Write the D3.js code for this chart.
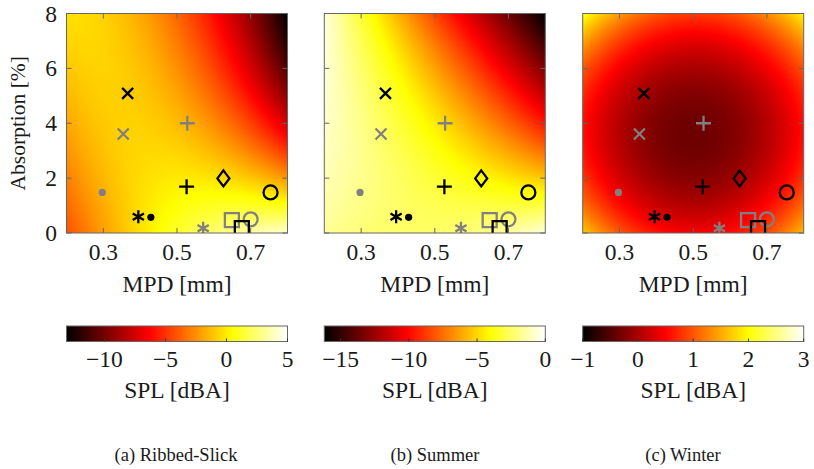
<!DOCTYPE html>
<html><head><meta charset="utf-8">
<script src="https://cdn.jsdelivr.net/npm/d3@7"></script>
<style>body{margin:0;background:#fff}svg{display:block}text{font-family:"Liberation Serif","Times New Roman",serif;fill:#1a1a1a}</style>
</head><body>
<script>
// ---------------- data ----------------
const panelTitles = ["(a) Ribbed-Slick", "(b) Summer", "(c) Winter"];
const mpdDomain = [0.2, 0.8];
const absDomain = [0, 8];
const mpdTicks = [0.3, 0.5, 0.7];
const absTicks = [0, 2, 4, 6, 8];
// SPL surface values at MPD nodes (cols) x Absorption nodes (rows)
const gridMPD = [0.2, 0.5, 0.8];
const gridAbs = [0, 4, 8];
const splRibbedSlick = [[-4.2, 1.2, 4.1], [-1.9, -1.3, -7.4], [-0.3, -3.6, -13.1]];
const splSummer = [[-1.6, -2.4, -0.6], [-0.8, -4.5, -9.6], [-0.5, -8.5, -16.2]];
const splWinter = [[1.7, 0.45, 1.6], [0.6, -0.35, 0.6], [2.1, 0.85, 1.96]];
const splDomains = [[-13.1, 5], [-16.2, 0], [-1, 3]];
const cbTicks = [[-10, -5, 0, 5], [-15, -10, -5, 0], [-1, 0, 1, 2, 3]];
// measurement points (road surfaces)
const pointMPD = [0.366, 0.354, 0.528, 0.526, 0.626, 0.754, 0.297, 0.395, 0.429, 0.571, 0.649, 0.700, 0.676];
const pointAbs = [5.09, 3.61, 4.0, 1.69, 1.99, 1.48, 1.48, 0.59, 0.57, 0.17, 0.47, 0.50, 0.18];
const pointShape = ["x", "x", "plus", "plus", "diamond", "circle", "dot", "star", "dot", "star", "square", "circle", "square"];
const pointTone = ["k", "g", "g", "k", "k", "k", "g", "k", "k", "g", "g", "g", "k"];

// ---------------- layout ----------------
const W = 814, H = 469;
const panelX = [66.5, 324.3, 582.7];
const pw = 221, plotTop = 13.5, plotBottom = 233;
const cbTop = 326, cbH = 15.5;
const frameColor = "#666";
const toneColor = {k: "#000", g: "#808080"};
const fs = 23.5;

const svg = d3.select("body").append("svg").attr("width", W).attr("height", H);
const defs = svg.append("defs");

function hot(t) {
  t = Math.max(0, Math.min(1, t));
  const r = Math.min(1, t / 0.375), g = Math.max(0, Math.min(1, (t - 0.375) / 0.375)), b = Math.max(0, Math.min(1, (t - 0.75) / 0.25));
  return [r * 255, g * 255, b * 255];
}
function lagr(v, nodes) {
  return nodes.map((n, i) => {
    let w = 1;
    nodes.forEach((m, j) => { if (j !== i) w *= (v - m) / (n - m); });
    return w;
  });
}
const surfaces = [splRibbedSlick, splSummer, splWinter];

function markerPath(shape) {
  switch (shape) {
    case "x": return "M-5.5,-5.5L5.5,5.5M-5.5,5.5L5.5,-5.5";
    case "plus": return "M-7.5,0H7.5M0,-7.5V7.5";
    case "diamond": return "M0,-8L6,0L0,8L-6,0Z";
    case "square": return "M-7,-7H7V7H-7Z";
    case "star": {
      const r = 6.5; let p = "";
      [90, 30, 150].forEach(a => { const c = Math.cos(a * Math.PI / 180) * r, s = Math.sin(a * Math.PI / 180) * r; p += `M${-c},${-s}L${c},${s}`; });
      return p;
    }
  }
  return "";
}

panelTitles.forEach((title, k) => {
  const x0 = panelX[k];
  const x = d3.scaleLinear().domain(mpdDomain).range([x0, x0 + pw]);
  const y = d3.scaleLinear().domain(absDomain).range([plotBottom, plotTop]);
  const color = d3.scaleLinear().domain(splDomains[k]).range([0, 1]).clamp(true);
  const grid = surfaces[k];

  // heatmap via canvas
  const cw = Math.round(pw), ch = Math.round(plotBottom - plotTop);
  const canvas = document.createElement("canvas");
  canvas.width = cw; canvas.height = ch;
  const ctx = canvas.getContext("2d");
  const img = ctx.createImageData(cw, ch);
  for (let j = 0; j < ch; j++) {
    const a = y.invert(plotTop + j + 0.5);
    const wa = lagr(a, gridAbs);
    for (let i = 0; i < cw; i++) {
      const m = x.invert(x0 + i + 0.5);
      const wm = lagr(m, gridMPD);
      let v = 0;
      for (let r = 0; r < 3; r++) for (let c = 0; c < 3; c++) v += wa[r] * wm[c] * grid[r][c];
      const col = hot(color(v));
      const o = (j * cw + i) * 4;
      img.data[o] = col[0]; img.data[o + 1] = col[1]; img.data[o + 2] = col[2]; img.data[o + 3] = 255;
    }
  }
  ctx.putImageData(img, 0, 0);
  const g = svg.append("g");
  g.append("image").attr("x", x0).attr("y", plotTop).attr("width", pw).attr("height", plotBottom - plotTop)
    .attr("preserveAspectRatio", "none").attr("href", canvas.toDataURL());

  // clip
  defs.append("clipPath").attr("id", "clip" + k).append("rect")
    .attr("x", x0).attr("y", plotTop).attr("width", pw).attr("height", plotBottom - plotTop);

  // ticks inside on all sides
  const tl = 5;
  const tk = g.append("g").attr("stroke", frameColor).attr("stroke-width", 1);
  mpdTicks.forEach(t => {
    tk.append("line").attr("x1", x(t)).attr("x2", x(t)).attr("y1", plotBottom).attr("y2", plotBottom - tl);
    tk.append("line").attr("x1", x(t)).attr("x2", x(t)).attr("y1", plotTop).attr("y2", plotTop + tl);
  });
  absTicks.forEach(t => {
    tk.append("line").attr("x1", x0).attr("x2", x0 + tl).attr("y1", y(t)).attr("y2", y(t));
    tk.append("line").attr("x1", x0 + pw).attr("x2", x0 + pw - tl).attr("y1", y(t)).attr("y2", y(t));
  });

  // markers
  const mk = g.append("g").attr("clip-path", `url(#clip${k})`);
  pointMPD.forEach((m, i) => {
    const cx = x(m), cy = y(pointAbs[i]), col = toneColor[pointTone[i]], sh = pointShape[i];
    if (sh === "dot") {
      mk.append("circle").attr("cx", cx).attr("cy", cy).attr("r", 3.6).attr("fill", col);
    } else if (sh === "circle") {
      mk.append("circle").attr("cx", cx).attr("cy", cy).attr("r", 7).attr("fill", "none").attr("stroke", col).attr("stroke-width", 2.3);
    } else {
      mk.append("path").attr("transform", `translate(${cx},${cy})`).attr("d", markerPath(sh))
        .attr("fill", "none").attr("stroke", col).attr("stroke-width", 2.3);
    }
  });

  // frame
  g.append("rect").attr("x", x0).attr("y", plotTop).attr("width", pw).attr("height", plotBottom - plotTop)
    .attr("fill", "none").attr("stroke", frameColor).attr("stroke-width", 1);

  // tick labels
  mpdTicks.forEach(t => {
    g.append("text").attr("x", x(t)).attr("y", 260).attr("text-anchor", "middle").attr("font-size", fs).text(d3.format(".1f")(t));
  });
  if (k === 0) {
    absTicks.forEach(t => {
      g.append("text").attr("x", 57).attr("y", y(t) + 8).attr("text-anchor", "end").attr("font-size", fs).text(t);
    });
    g.append("text").attr("transform", `translate(25,${(plotTop + plotBottom) / 2}) rotate(-90)`)
      .attr("text-anchor", "middle").attr("font-size", 21.5).text("Absorption [%]");
  }
  g.append("text").attr("x", x0 + pw / 2).attr("y", 292).attr("text-anchor", "middle").attr("font-size", fs).text("MPD [mm]");

  // colorbar
  const gid = "hot" + k;
  const grad = defs.append("linearGradient").attr("id", gid).attr("x1", "0%").attr("x2", "100%").attr("y1", "0%").attr("y2", "0%");
  [0, 0.375, 0.75, 1].forEach(t => {
    const c = hot(t);
    grad.append("stop").attr("offset", t * 100 + "%").attr("stop-color", d3.rgb(c[0], c[1], c[2]).formatHex());
  });
  const cx = d3.scaleLinear().domain(splDomains[k]).range([x0, x0 + pw]);
  g.append("rect").attr("x", x0).attr("y", cbTop).attr("width", pw).attr("height", cbH).attr("fill", `url(#${gid})`)
    .attr("stroke", frameColor).attr("stroke-width", 1);
  cbTicks[k].forEach(t => {
    g.append("line").attr("x1", cx(t)).attr("x2", cx(t)).attr("y1", cbTop + cbH).attr("y2", cbTop + cbH - 3)
      .attr("stroke", "#333").attr("stroke-width", 1);
    g.append("text").attr("x", cx(t)).attr("y", 366.5).attr("text-anchor", "middle").attr("font-size", fs)
      .text(d3.format("")(t).replace("-", "\u2212"));
  });
  g.append("text").attr("x", x0 + pw / 2).attr("y", 398).attr("text-anchor", "middle").attr("font-size", fs).text("SPL [dBA]");

  // caption
  const capX = [176, 435, 683][k];
  g.append("text").attr("x", capX).attr("y", 461).attr("text-anchor", "middle").attr("font-size", 18.5).text(title);
});
</script>
</body></html>
